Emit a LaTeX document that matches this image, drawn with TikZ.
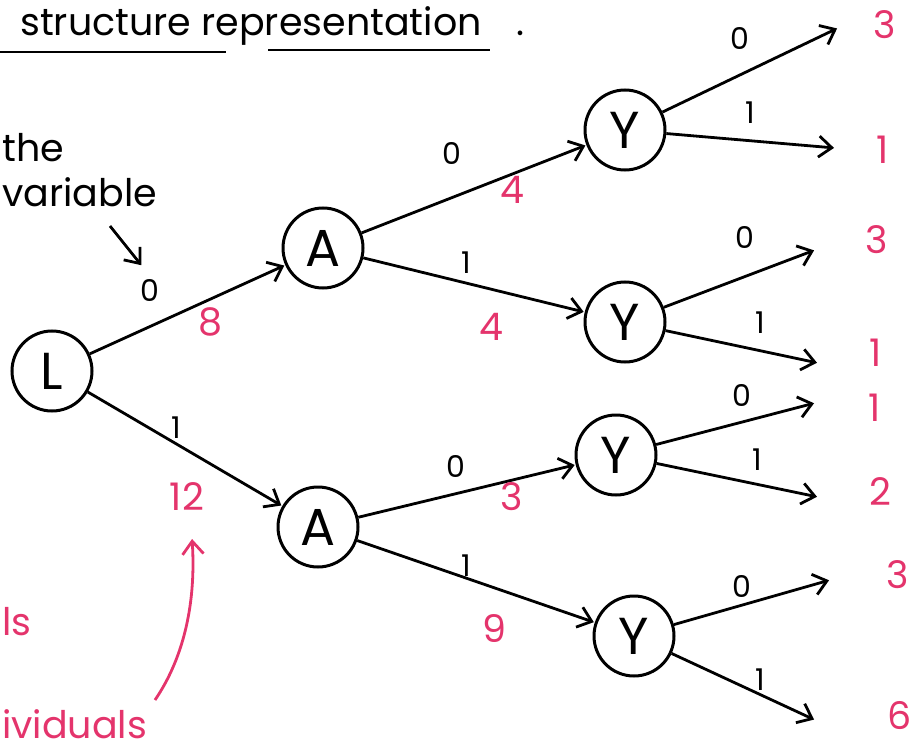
\documentclass[tikz,border=0pt]{standalone}
\usepackage{fontspec}
\setmainfont{Poppins}
\usetikzlibrary{arrows.meta}
\definecolor{pinkred}{RGB}{228,52,108}
\tikzset{
  var/.style={circle, draw, line width=3pt, minimum size=80pt, inner sep=0pt, font=\fontsize{52}{54}\selectfont},
  edge/.style={line width=2.8pt, -{Straight Barb[length=13pt,width=21pt,line width=2.8pt]}, shorten >=1pt},
  plain/.style={line width=2.8pt},
  val/.style={font=\fontsize{30}{32}\selectfont},
  cnt/.style={font=\fontsize{38}{40}\selectfont, text=pinkred},
  note/.style={font=\fontsize{38}{42}\selectfont},
  pnote/.style={font=\fontsize{38}{42}\selectfont, text=pinkred}
}
\begin{document}
\begin{tikzpicture}[x=1pt,y=-1pt]
\useasboundingbox (0,0) rectangle (914,752);
% nodes
\node[var] (L) at (52,371) {L};
\node[var] (A1) at (323,248) {A};
\node[var] (A2) at (318,527) {A};
\node[var] (Y1) at (625,130) {Y};
\node[var] (Y2) at (625,322) {Y};
\node[var] (Y3) at (616,455) {Y};
\node[var] (Y4) at (634,636) {Y};
% leaf arrow ends
\coordinate (e1) at (838,28);
\coordinate (e2) at (835,148);
\coordinate (e3) at (815,250);
\coordinate (e4) at (818,363);
\coordinate (e5) at (815,403);
\coordinate (e6) at (818,497);
\coordinate (e7) at (830,580);
\coordinate (e8) at (815,720);
% leaf counts
\node[cnt] (c1) at (885,25) {3};
\node[cnt] (c2) at (883,150) {1};
\node[cnt] (c3) at (877,240) {3};
\node[cnt] (c4) at (876,353) {1};
\node[cnt] (c5) at (875,408) {1};
\node[cnt] (c6) at (880,492) {2};
\node[cnt] (c7) at (898,575) {3};
\node[cnt] (c8) at (900,716) {6};
% edges
\draw[edge] (L) -- (A1);
\draw[edge] (L) -- (A2);
\draw[edge] (A1) -- (Y1);
\draw[edge] (A1) -- (Y2);
\draw[edge] (A2) -- (Y3);
\draw[edge] (A2) -- (Y4);
\draw[edge] (Y1) -- (e1);
\draw[edge] (Y1) -- (e2);
\draw[edge] (Y2) -- (e3);
\draw[edge] (Y2) -- (e4);
\draw[edge] (Y3) -- (e5);
\draw[edge] (Y3) -- (e6);
\draw[edge] (Y4) -- (e7);
\draw[edge] (Y4) -- (e8);
% edge values
\node[val] (v1) at (150,290) {0};
\node[val] (v2) at (176,428) {1};
\node[val] (v3) at (452,153) {0};
\node[val] (v4) at (466,263) {1};
\node[val] (v5) at (456,466) {0};
\node[val] (v6) at (466,566) {1};
\node[val] (v7) at (740,38) {0};
\node[val] (v8) at (750,113) {1};
\node[val] (v9) at (745,237) {0};
\node[val] (v10) at (760,323) {1};
\node[val] (v11) at (742,395) {0};
\node[val] (v12) at (757,460) {1};
\node[val] (v13) at (742,586) {0};
\node[val] (v14) at (760,680) {1};
% edge counts
\node[cnt] (n1) at (210,322) {8};
\node[cnt] (n2) at (187,497) {12};
\node[cnt] (n3) at (512,190) {4};
\node[cnt] (n4) at (491,327) {4};
\node[cnt] (n5) at (512,497) {3};
\node[cnt] (n6) at (494,629) {9};
% title
\node[note, anchor=base west, inner xsep=0pt] (title) at (20,36) {structure representation};
\node[note, anchor=base] (dot) at (520,36) {.};
\coordinate (u1a) at (0,52);
\coordinate (u1b) at (226,52);
\coordinate (u2a) at (268,50);
\coordinate (u2b) at (490,50);
\draw[plain] (u1a) -- (u1b);
\draw[plain] (u2a) -- (u2b);
% black note
\node[note, anchor=west, inner xsep=0pt] (the) at (2,148) {the};
\node[note, anchor=west, inner xsep=0pt] (variable) at (2,192) {variable};
\coordinate (na) at (110,226);
\coordinate (nb) at (142,266);
\draw[edge] (na) -- (nb);
% pink notes
\node[pnote, anchor=west, inner sep=0pt] (ls) at (2,622) {ls};
\node[pnote, anchor=base west, inner sep=0pt] (indiv) at (2,738) {ividuals};
\coordinate (pa) at (155,700);
\coordinate (pb) at (192,538);
\draw[edge, draw=pinkred] (pa) .. controls (185,656) and (196,600) .. (pb);
\end{tikzpicture}
\end{document}
